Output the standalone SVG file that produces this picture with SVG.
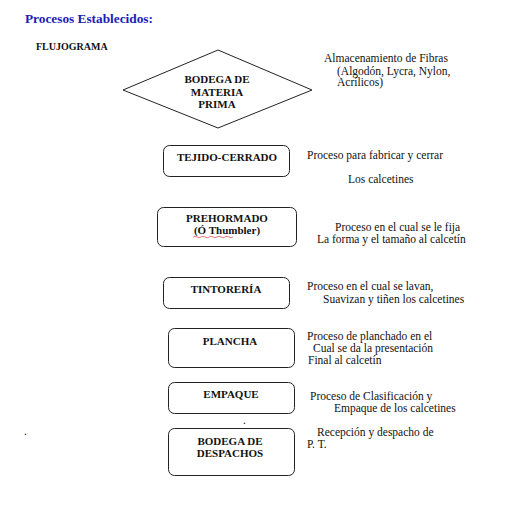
<svg xmlns="http://www.w3.org/2000/svg" width="515" height="516" viewBox="0 0 515 516">
<style>
.box{fill:#fff;stroke:#222;stroke-width:1}
.lbl{font-family:"Liberation Serif","Times New Roman",serif;font-weight:bold;font-size:11px;fill:#111;text-anchor:middle}
.note{font-family:"Liberation Serif","Times New Roman",serif;font-size:11.5px;fill:#111}
</style>
<rect width="515" height="516" fill="#fff"/>
<text x="25" y="23" font-family="Liberation Serif, serif" font-weight="bold" font-size="13.3px" fill="#1c1cb8">Procesos Establecidos:</text>
<text x="36" y="50" font-family="Liberation Serif, serif" font-weight="bold" font-size="10px" fill="#111">FLUJOGRAMA</text>
<g id="connectors"/>
<g id="n1">
<polygon class="box" points="218,50 312,90 218,128 123,90"/>
<text class="lbl" x="217" y="83">BODEGA DE</text>
<text class="lbl" x="217" y="96">MATERIA</text>
<text class="lbl" x="217" y="108">PRIMA</text>
<text class="note" x="324" y="62">Almacenamiento de Fibras</text>
<text class="note" x="337" y="75">(Algodón, Lycra, Nylon,</text>
<text class="note" x="337" y="86">Acrílicos)</text>
</g>
<g id="n2">
<rect class="box" x="163.5" y="145.5" width="126" height="31" rx="6"/>
<text class="lbl" x="227" y="161">TEJIDO-CERRADO</text>
<text class="note" x="307" y="159">Proceso para fabricar y cerrar</text>
<text class="note" x="348" y="183">Los calcetines</text>
</g>
<g id="n3">
<rect class="box" x="157.5" y="207.5" width="139" height="39" rx="6"/>
<text class="lbl" x="227" y="222">PREHORMADO</text>
<text class="lbl" x="227" y="234">(Ó Thumbler)</text>
<path d="M193,237 q2,-1.5 4,0 q2,1.5 4,0 q2,-1.5 4,0 q2,1.5 4,0 q2,-1.5 4,0 q2,1.5 4,0 q2,-1.5 4,0 q2,1.5 4,0 q2,-1.5 4,0 q2,1.5 4,0" fill="none" stroke="#d02020" stroke-width="0.6"/>
<text class="note" x="335" y="231">Proceso en el cual se le fija</text>
<text class="note" x="317" y="243">La forma y el tamaño al calcetín</text>
</g>
<g id="n4">
<rect class="box" x="163.5" y="277.5" width="126" height="31" rx="6"/>
<text class="lbl" x="226" y="293">TINTORERÍA</text>
<text class="note" x="307" y="290">Proceso en el cual se lavan,</text>
<text class="note" x="323" y="303">Suavizan y tiñen los calcetines</text>
</g>
<g id="n5">
<rect class="box" x="168.5" y="328.5" width="126" height="39" rx="6"/>
<text class="lbl" x="230" y="345">PLANCHA</text>
<text class="note" x="307" y="340">Proceso de planchado en el</text>
<text class="note" x="313" y="352">Cual se da la presentación</text>
<text class="note" x="308" y="364">Final  al calcetín</text>
</g>
<g id="n6">
<rect class="box" x="168.5" y="382.5" width="126" height="31" rx="6"/>
<text class="lbl" x="231" y="398">EMPAQUE</text>
<text class="note" x="310" y="400">Proceso de Clasificación y</text>
<text class="note" x="334" y="412">Empaque de los calcetines</text>
</g>
<g id="n7">
<rect class="box" x="168.5" y="428.5" width="126" height="47" rx="6"/>
<text class="lbl" x="230" y="445" font-size="10.5px">BODEGA DE</text>
<text class="lbl" x="230" y="457" font-size="10.5px">DESPACHOS</text>
<text class="note" x="317" y="436">Recepción y despacho de</text>
<text class="note" x="307" y="448">P. T.</text>
</g>
<text class="note" x="243" y="424" font-size="8px">.</text>
<text class="note" x="24" y="435" font-size="8px">.</text>
</svg>
